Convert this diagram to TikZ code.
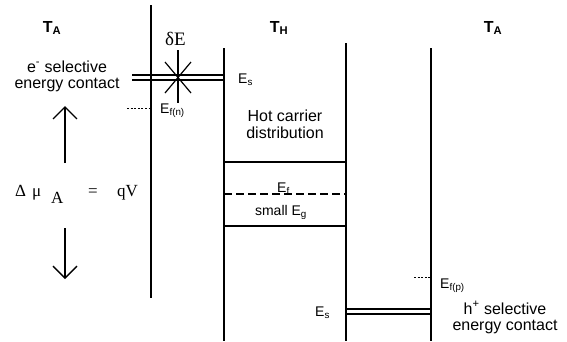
\documentclass[tikz,border=0pt]{standalone}
\usepackage{fontspec}
\setmainfont{Liberation Sans}
\newfontfamily\tms{Liberation Serif}
\usetikzlibrary{arrows.meta}
\begin{document}
\begin{tikzpicture}[x=1pt,y=-1pt,
  txt/.style={inner sep=0pt, font=\fontsize{16}{17}\selectfont, anchor=base},
  tlbl/.style={inner sep=0pt, font=\bfseries\fontsize{16}{16}\selectfont, anchor=base},
  elbl/.style={inner sep=0pt, font=\fontsize{14}{14}\selectfont, anchor=base west},
  mth/.style={inner sep=0pt, font=\tms\fontsize{17}{17}\selectfont, anchor=base west},
  wall/.style={line width=1.8pt},
  lev/.style={line width=1.4pt},
  thin/.style={line width=1.2pt},
  fermi/.style={line width=2.6pt, dash pattern=on 8pt off 4pt},
  qfermi/.style={line width=1pt, dash pattern=on 2pt off 1.6pt},
  varrow/.style={line width=1.3pt, -{Straight Barb[length=12pt,width=24pt,line width=1.3pt]}}
]
\useasboundingbox (0,0) rectangle (567,341);

% temperature labels
\node[tlbl] (ta1) at (52,32) {T\textsubscript{A}};
\node[tlbl] (th) at (279,32) {T\textsubscript{H}};
\node[tlbl] (ta2) at (493,32) {T\textsubscript{A}};

% walls
\coordinate (w1t) at (151,5);   \coordinate (w1b) at (151,298);
\coordinate (w2t) at (224,48);  \coordinate (w2b) at (224,341);
\coordinate (w3t) at (346,43);  \coordinate (w3b) at (346,341);
\coordinate (w4t) at (431,48);  \coordinate (w4b) at (431,341);
\draw[wall] (w1t) -- (w1b);
\draw[wall] (w2t) -- (w2b);
\draw[wall] (w3t) -- (w3b);
\draw[wall] (w4t) -- (w4b);

% upper (electron) selective contact: double line
\coordinate (ca1) at (132,75); \coordinate (ca2) at (224,75);
\coordinate (cb1) at (132,80); \coordinate (cb2) at (224,80);
\draw[thin] (ca1) -- (ca2);
\draw[thin] (cb1) -- (cb2);

% delta E star
\coordinate (sc) at (178,77);
\coordinate (sv1) at (178,50); \coordinate (sv2) at (178,103);
\coordinate (sd1) at (165,62); \coordinate (sd2) at (191,93);
\coordinate (sd3) at (191,62); \coordinate (sd4) at (165,93);
\draw[thin] (sv1) -- (sv2);
\draw[thin] (sd1) -- (sd2);
\draw[thin] (sd3) -- (sd4);
\node[mth, font=\tms\fontsize{19}{19}\selectfont] (de) at (165,45) {δE};

% lower (hole) selective contact: double line
\coordinate (cc1) at (346,309); \coordinate (cc2) at (431,309);
\coordinate (cd1) at (346,314); \coordinate (cd2) at (431,314);
\draw[thin] (cc1) -- (cc2);
\draw[thin] (cd1) -- (cd2);

% absorber levels
\coordinate (l1a) at (224,162); \coordinate (l1b) at (346,162);
\coordinate (l2a) at (224,194); \coordinate (l2b) at (346,194);
\coordinate (l3a) at (224,226); \coordinate (l3b) at (346,226);
\draw[lev] (l1a) -- (l1b);
\draw[fermi] (l2a) -- (l2b);
\draw[lev] (l3a) -- (l3b);

% quasi Fermi levels in contacts
\coordinate (fn1) at (127,108); \coordinate (fn2) at (150,108);
\draw[qfermi] (fn1) -- (fn2);
\coordinate (fp1) at (414,277); \coordinate (fp2) at (430,277);
\draw[qfermi] (fp1) -- (fp2);

% labels
\node[txt] (es1) at (67,72) {e\textsuperscript{-} selective};
\node[txt] (es2) at (67,88) {energy contact};
\node[txt] (hs1) at (505,314) {h\textsuperscript{+} selective};
\node[txt] (hs2) at (505,330) {energy contact};
\node[txt] (hc1) at (285,121) {Hot carrier};
\node[txt] (hc2) at (285,138) {distribution};

\node[elbl] (esu) at (238,83) {E\textsubscript{s}};
\node[elbl] (esl) at (315,316) {E\textsubscript{s}};
\node[elbl] (efn) at (160,113) {E\textsubscript{f(n)}};
\node[elbl] (efp) at (440,288) {E\textsubscript{f(p)}};
\node[elbl] (ef) at (277,192) {E\textsubscript{f}};
\node[inner sep=0pt, font=\fontsize{14}{14}\selectfont, anchor=base] (eg) at (281,215) {small E\textsubscript{g}};

% voltage arrows
\coordinate (au1) at (65,163); \coordinate (au2) at (65,106);
\coordinate (ad1) at (65,228); \coordinate (ad2) at (65,279);
\draw[varrow] (au1) -- (au2);
\draw[varrow] (ad1) -- (ad2);

\node[mth] (dl) at (15,196) {Δ};
\node[mth] (mu) at (32,196) {μ};
\node[mth] (sa) at (51,203) {A};
\node[mth] (eq) at (88,196) {=};
\node[mth] (qv) at (117,196) {qV};
\end{tikzpicture}
\end{document}
